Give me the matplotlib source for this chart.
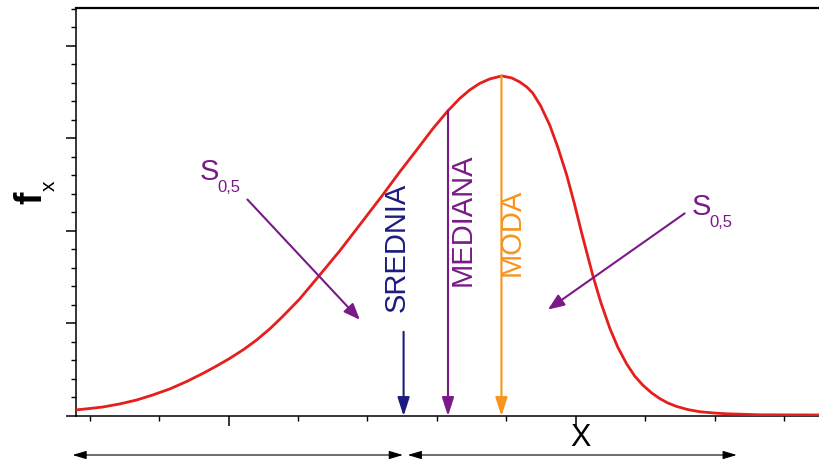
import numpy as np
import matplotlib.pyplot as plt
from matplotlib.ticker import MultipleLocator, NullFormatter

plt.rcParams['font.family'] = ['Liberation Sans', 'DejaVu Sans']

# density curve read point by point
curve_x = [-2.205, -2.003, -1.816, -1.571, -1.326, -1.095, -0.850, -0.605,
           -0.375, -0.173, 0.014, 0.216, 0.403, 0.591, 0.778, 1.023,
           1.282, 1.599, 1.888, 2.219, 2.464, 2.709, 2.939, 3.156,
           3.329, 3.473, 3.617, 3.761, 3.934, 4.078, 4.193, 4.294,
           4.380, 4.496, 4.625, 4.741, 4.870, 4.986, 5.086, 5.245,
           5.360, 5.490, 5.605, 5.735, 5.850, 5.965, 6.095, 6.210,
           6.326, 6.455, 6.614, 6.787, 7.003, 7.176, 7.651, 8.600]
curve_y = [0.065, 0.081, 0.097, 0.130, 0.173, 0.227, 0.292, 0.373,
           0.459, 0.541, 0.622, 0.719, 0.822, 0.941, 1.076, 1.265,
           1.497, 1.784, 2.065, 2.389, 2.638, 2.876, 3.103, 3.297,
           3.432, 3.524, 3.595, 3.643, 3.676, 3.654, 3.611, 3.557,
           3.492, 3.351, 3.146, 2.908, 2.605, 2.281, 1.978, 1.524,
           1.232, 0.951, 0.746, 0.562, 0.432, 0.335, 0.249, 0.189,
           0.141, 0.103, 0.070, 0.046, 0.032, 0.024, 0.013, 0.011]

# mean, median, mode
stat_names = ['SREDNIA', 'MEDIANA', 'MODA']
stat_x = [2.52, 3.16, 3.93]
stat_top = [0.91, 3.30, 3.68]
stat_colors = ['#1c1c80', '#7a1a88', '#f7941d']
stat_text_xy = [(2.42, 1.82), (3.37, 2.12), (4.08, 1.98)]

purple = '#7a1a88'

fig = plt.figure(figsize=(8.2, 4.59), dpi=100)
ax = fig.add_axes([76 / 820, 43 / 459, 1 - 76 / 820, 408 / 459])

ax.plot(curve_x, curve_y, color='#e41f1c', lw=2.0, solid_capstyle='round',
        solid_joinstyle='round', zorder=3)

for name, x, top, c, (tx, ty) in zip(stat_names, stat_x, stat_top,
                                     stat_colors, stat_text_xy):
    ax.annotate('', xy=(x, 0), xytext=(x, top),
                arrowprops=dict(arrowstyle='-|>,head_length=0.8,head_width=0.26',
                                color=c, lw=1.5, shrinkA=0, shrinkB=0,
                                mutation_scale=14), zorder=4)
    ax.text(tx, ty, name, rotation=90, ha='center', va='center',
            fontsize=21, color=c)

# S_0,5 labels with arrows
ax.text(-0.42, 2.55, 'S', fontsize=21, color=purple, ha='left', va='baseline')
ax.text(-0.16, 2.42, '0,5', fontsize=12, color=purple, ha='left', va='baseline')
ax.text(6.67, 2.17, 'S', fontsize=21, color=purple, ha='left', va='baseline')
ax.text(6.92, 2.04, '0,5', fontsize=12, color=purple, ha='left', va='baseline')
for start, end in [((0.27, 2.34), (1.89, 1.04)), ((6.57, 2.19), (4.60, 1.15))]:
    ax.annotate('', xy=end, xytext=start,
                arrowprops=dict(arrowstyle='-|>,head_length=0.7,head_width=0.28',
                                color=purple, lw=1.5, shrinkA=0, shrinkB=0,
                                mutation_scale=14))

# spans under the axis
for x0, x1 in [(-2.25, 2.51), (2.58, 7.32)]:
    ax.annotate('', xy=(x1, -0.0956), xytext=(x0, -0.0956),
                xycoords=('data', 'axes fraction'),
                textcoords=('data', 'axes fraction'),
                arrowprops=dict(arrowstyle='<|-|>,head_length=0.6,head_width=0.18',
                                color='black', lw=0.8, shrinkA=0, shrinkB=0,
                                mutation_scale=14), annotation_clip=False)

ax.set_xlim(-2.2, 8.52)
ax.set_ylim(0, 4.41)
ax.spines['right'].set_visible(False)
for s in ['left', 'bottom']:
    ax.spines[s].set_linewidth(1.1)
ax.spines['top'].set_linewidth(1.6)

ax.xaxis.set_major_locator(MultipleLocator(5))
ax.xaxis.set_minor_locator(MultipleLocator(1))
ax.yaxis.set_major_locator(MultipleLocator(1))
ax.yaxis.set_minor_locator(MultipleLocator(0.2))
ax.xaxis.set_major_formatter(NullFormatter())
ax.yaxis.set_major_formatter(NullFormatter())
ax.tick_params(which='major', direction='out', length=7, width=1.1)
ax.tick_params(which='minor', direction='out', length=3.5, width=1.0)
ax.tick_params(top=False, right=False)

fig.text(31 / 820, 1 - 198 / 459, 'f', fontsize=27, fontweight='bold',
         rotation=90, ha='center', va='center')
fig.text(49 / 820, 1 - 186 / 459, 'x', fontsize=15, rotation=90,
         ha='center', va='center')
fig.text(581 / 820, 1 - 438 / 459, 'X', fontsize=22, ha='center', va='center')

fig.savefig('out.png', dpi=100)
